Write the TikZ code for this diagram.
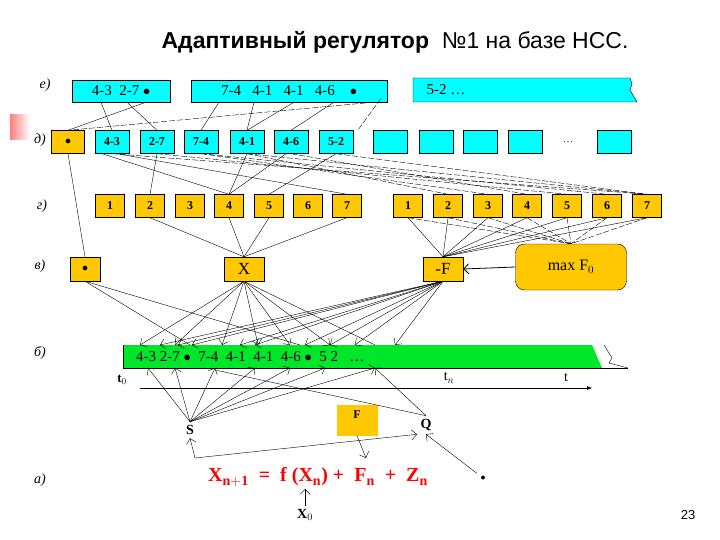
\documentclass[tikz,border=0pt]{standalone}
\usepackage{fontspec}
\setmainfont{Liberation Serif}
\newfontfamily\sansf{Liberation Sans}
\usetikzlibrary{arrows.meta}
\definecolor{cy}{RGB}{0,255,255}
\definecolor{yl}{RGB}{255,200,0}
\definecolor{gr}{RGB}{0,230,40}
\begin{document}
\begin{tikzpicture}[x=1pt,y=-1pt,
 cb/.style={draw=black,fill=cy,font=\bfseries\fontsize{12}{12}\selectfont,inner sep=0pt},
 yb/.style={draw=black,fill=yl,font=\bfseries\fontsize{12}{12}\selectfont,inner sep=0pt,minimum width=29pt,minimum height=23pt},
 lab/.style={font=\itshape\fontsize{14}{14}\selectfont},
 ln/.style={thin},
 dl/.style={thin,dashed,dash pattern=on 6pt off 2pt},
 ar/.style={thin,-{Straight Barb[length=5pt]}}]
\useasboundingbox (0,0) rectangle (720,540);
\fill[white] (0,0) rectangle (720,540);
\shade[left color=red!50,right color=white] (10,115) rectangle (30,140);
\node[font=\sansf\fontsize{23}{23}\selectfont] (title) at (395,42) {\textbf{Адаптивный регулятор} \ №1 на базе НСС.};
% row labels
\node[lab] (le) at (45,85) {е)};
\node[lab] (ld) at (40,140) {д)};
\node[lab] (lg) at (42,206) {г)};
\node[lab] (lv) at (40,266) {в)};
\node[lab] (lb) at (40,353) {б)};
\node[lab] (la) at (40,480) {а)};
% row e
\node[cb,font=\fontsize{15}{15}\selectfont,minimum width=98pt,minimum height=22pt] (e1) at (121,91) {4-3\ \ 2-7 $\bullet$};
\node[cb,font=\fontsize{15}{15}\selectfont,minimum width=196pt,minimum height=22pt] (e2) at (289,91) {7-4\ \ \ 4-1\ \ \ 4-1\ \ \ 4-6\ \ \ \ $\bullet$};
\draw[fill=cy] (413,78) -- (630,78) -- (632,84) -- (630,90) -- (637,102) -- (413,102) -- cycle;
\node[font=\fontsize{15}{15}\selectfont,anchor=west] (e3) at (423,90) {5-2 \dots};
% row d
\node[yb,minimum width=33pt] (d0) at (68,142) {$\bullet$};
\foreach \n/\x/\t in {1/112/4-3,2/157/2-7,3/201/7-4,4/247/4-1,5/291/4-6,6/336/5-2,7/390/,8/436/,9/480/,10/525/,11/614/}
  \node[cb,minimum width=34pt,minimum height=23pt] (d\n) at (\x,142) {\t};
\node (dd) at (568,142) {\dots};
% row g
\foreach \n/\x/\t in {1/110/1,2/150/2,3/190/3,4/229/4,5/269/5,6/308/6,7/347/7,8/408/1,9/448/2,10/488/3,11/527/4,12/567/5,13/607/6,14/647/7}
  \node[yb] (g\n) at (\x,206) {\t};
% row v
\node[yb,minimum width=30pt,minimum height=24pt] (v0) at (85,269) {$\bullet$};
\node[yb,font=\fontsize{17}{17}\selectfont,minimum width=40pt,minimum height=24pt] (vx) at (244,269) {X};
\node[yb,font=\fontsize{17}{17}\selectfont,minimum width=40pt,minimum height=24pt] (vf) at (443,269) {-F};
\node[yb,rounded corners=9pt,font=\fontsize{16}{16}\selectfont,minimum width=111pt,minimum height=46pt] (mx) at (571,267) {max F$_0$};
% row b
\fill[gr] (123,345) -- (592,345) -- (602,368) -- (123,368) -- cycle;
\draw (123,345) -- (123,368) -- (628,368);
\draw (604,345) -- (612,358) -- (609,363) -- (628,368);
\node[font=\fontsize{15}{15}\selectfont,anchor=west,inner sep=0pt] (bt) at (136,357) {4-3 2-7 $\bullet$\ \ 7-4\ \ 4-1\ \ 4-1\ \ 4-6 $\bullet$\ \ 5 2\ \ \ \dots};
\node[font=\bfseries\fontsize{13}{13}\selectfont] (t0) at (122,380) {t$_0$};
\node[font=\fontsize{14}{14}\selectfont] (tn) at (449,378) {t$_n$};
\node[font=\fontsize{14}{14}\selectfont] (tt) at (566,378) {t};
\coordinate (ax0) at (140,388); \coordinate (ax1) at (592,388);
\draw[-{Latex[length=5pt]}] (ax0) -- (ax1);
% lower
\node[fill=yl,font=\bfseries\fontsize{12}{12}\selectfont,minimum width=41pt,minimum height=31pt,inner sep=0pt,text depth=10pt] (F) at (357,420) {F};
\node[font=\bfseries\fontsize{14}{14}\selectfont] (S) at (190,430) {S};
\node[font=\bfseries\fontsize{14}{14}\selectfont] (Q) at (426,425) {Q};
\node[text=red,font=\bfseries\fontsize{20}{20}\selectfont] (eq) at (318,477) {X$_{\mathbf{n+1}}$\ \ =\ \ f (X$_{\mathbf n}$)\ +\ \ F$_{\mathbf n}$\ \ +\ \ Z$_{\mathbf n}$};
\node (dot) at (483,478) {$\bullet$};
\node[font=\bfseries\fontsize{14}{14}\selectfont] (X0) at (305,515) {X$_0$};
\node[font=\sansf\fontsize{13}{13}\selectfont] (pg) at (688,515) {23};
% e -> d
\draw[ln] ([xshift=-20pt]e1.south) -- (d1.north);
\draw[ln] ([xshift=6pt]e1.south) -- (d2.north);
\draw[ln] ([xshift=25pt]e1.south) -- (d0.north);
\draw[ln] ([xshift=-70pt]e2.south) -- (d3.north);
\draw[ln] ([xshift=-35pt]e2.south) -- (d4.north);
\draw[ln] ([xshift=5pt]e2.south) -- (d4.north);
\draw[ln] ([xshift=45pt]e2.south) -- (d5.north);
\draw[dl] ([xshift=85pt]e2.south) -- (d0.north);
\draw[dl] ([xshift=-65pt]e3.south) -- ([xshift=-15pt]d7.north west);
% d -> g
\draw[ln] (d0.south) -- (v0.north);
\draw[ln] (d2.south) -- (g2.north);
\draw[ln] ([xshift=-10pt]d1.south) -- (g4.north);
\draw[ln] (d4.south) -- (g4.north);
\draw[ln] ([xshift=-5pt]d5.south) -- (g4.north);
\draw[ln] (d6.south) -- (g5.north);
\draw[ln] ([xshift=5pt]d1.south) -- (g7.north);
\foreach \a/\b in {1/14,2/12,3/13,4/14,5/11,6/14,3/10,4/9}
  \draw[dl] (d\a.south) -- (g\b.north);
% g -> v
\foreach \a in {2,4,5,7} \draw[ln] (g\a.south) -- (vx.north);
\foreach \a in {8,9,10,11,12,13,14} \draw[ln] (g\a.south) -- (vf.north);
\foreach \a in {8,9,10,11,12,13,14} \draw[dl] (g\a.south) -- (mx.north);
\draw[ar,thick] (mx.west) -- (vf.east);
% v -> b
\foreach \x in {140,175,222,258,290,330} \draw[ar] (vx.south) -- (\x,345);
\foreach \x in {160,178,192,240,255,305,330,355,395} \draw[ar] (vf.south) -- (\x,345);
\draw[ln] (v0.south) -- (190,345);
\draw[ln] (v0.south) -- (300,345);
\draw[ln] (vx.south) -- (375,345);
% S, Q
\foreach \x in {148,175,215,255,290,325,375} \draw[ar] (S.north) -- (\x,368);
\draw[ar] (Q.north) -- (375,368);
\draw[ln] (Q.north) -- (215,370);
\coordinate (s0) at (195,458);
\draw[ar] (s0) -- (S.south);
\draw[ar] (s0) -- (Q.south west);
\draw[ar] (F.south) -- (366,458);
\draw[ar] (dot) -- (Q.south);
\draw[ar] (X0.north) -- (305,489);
\end{tikzpicture}
\end{document}
